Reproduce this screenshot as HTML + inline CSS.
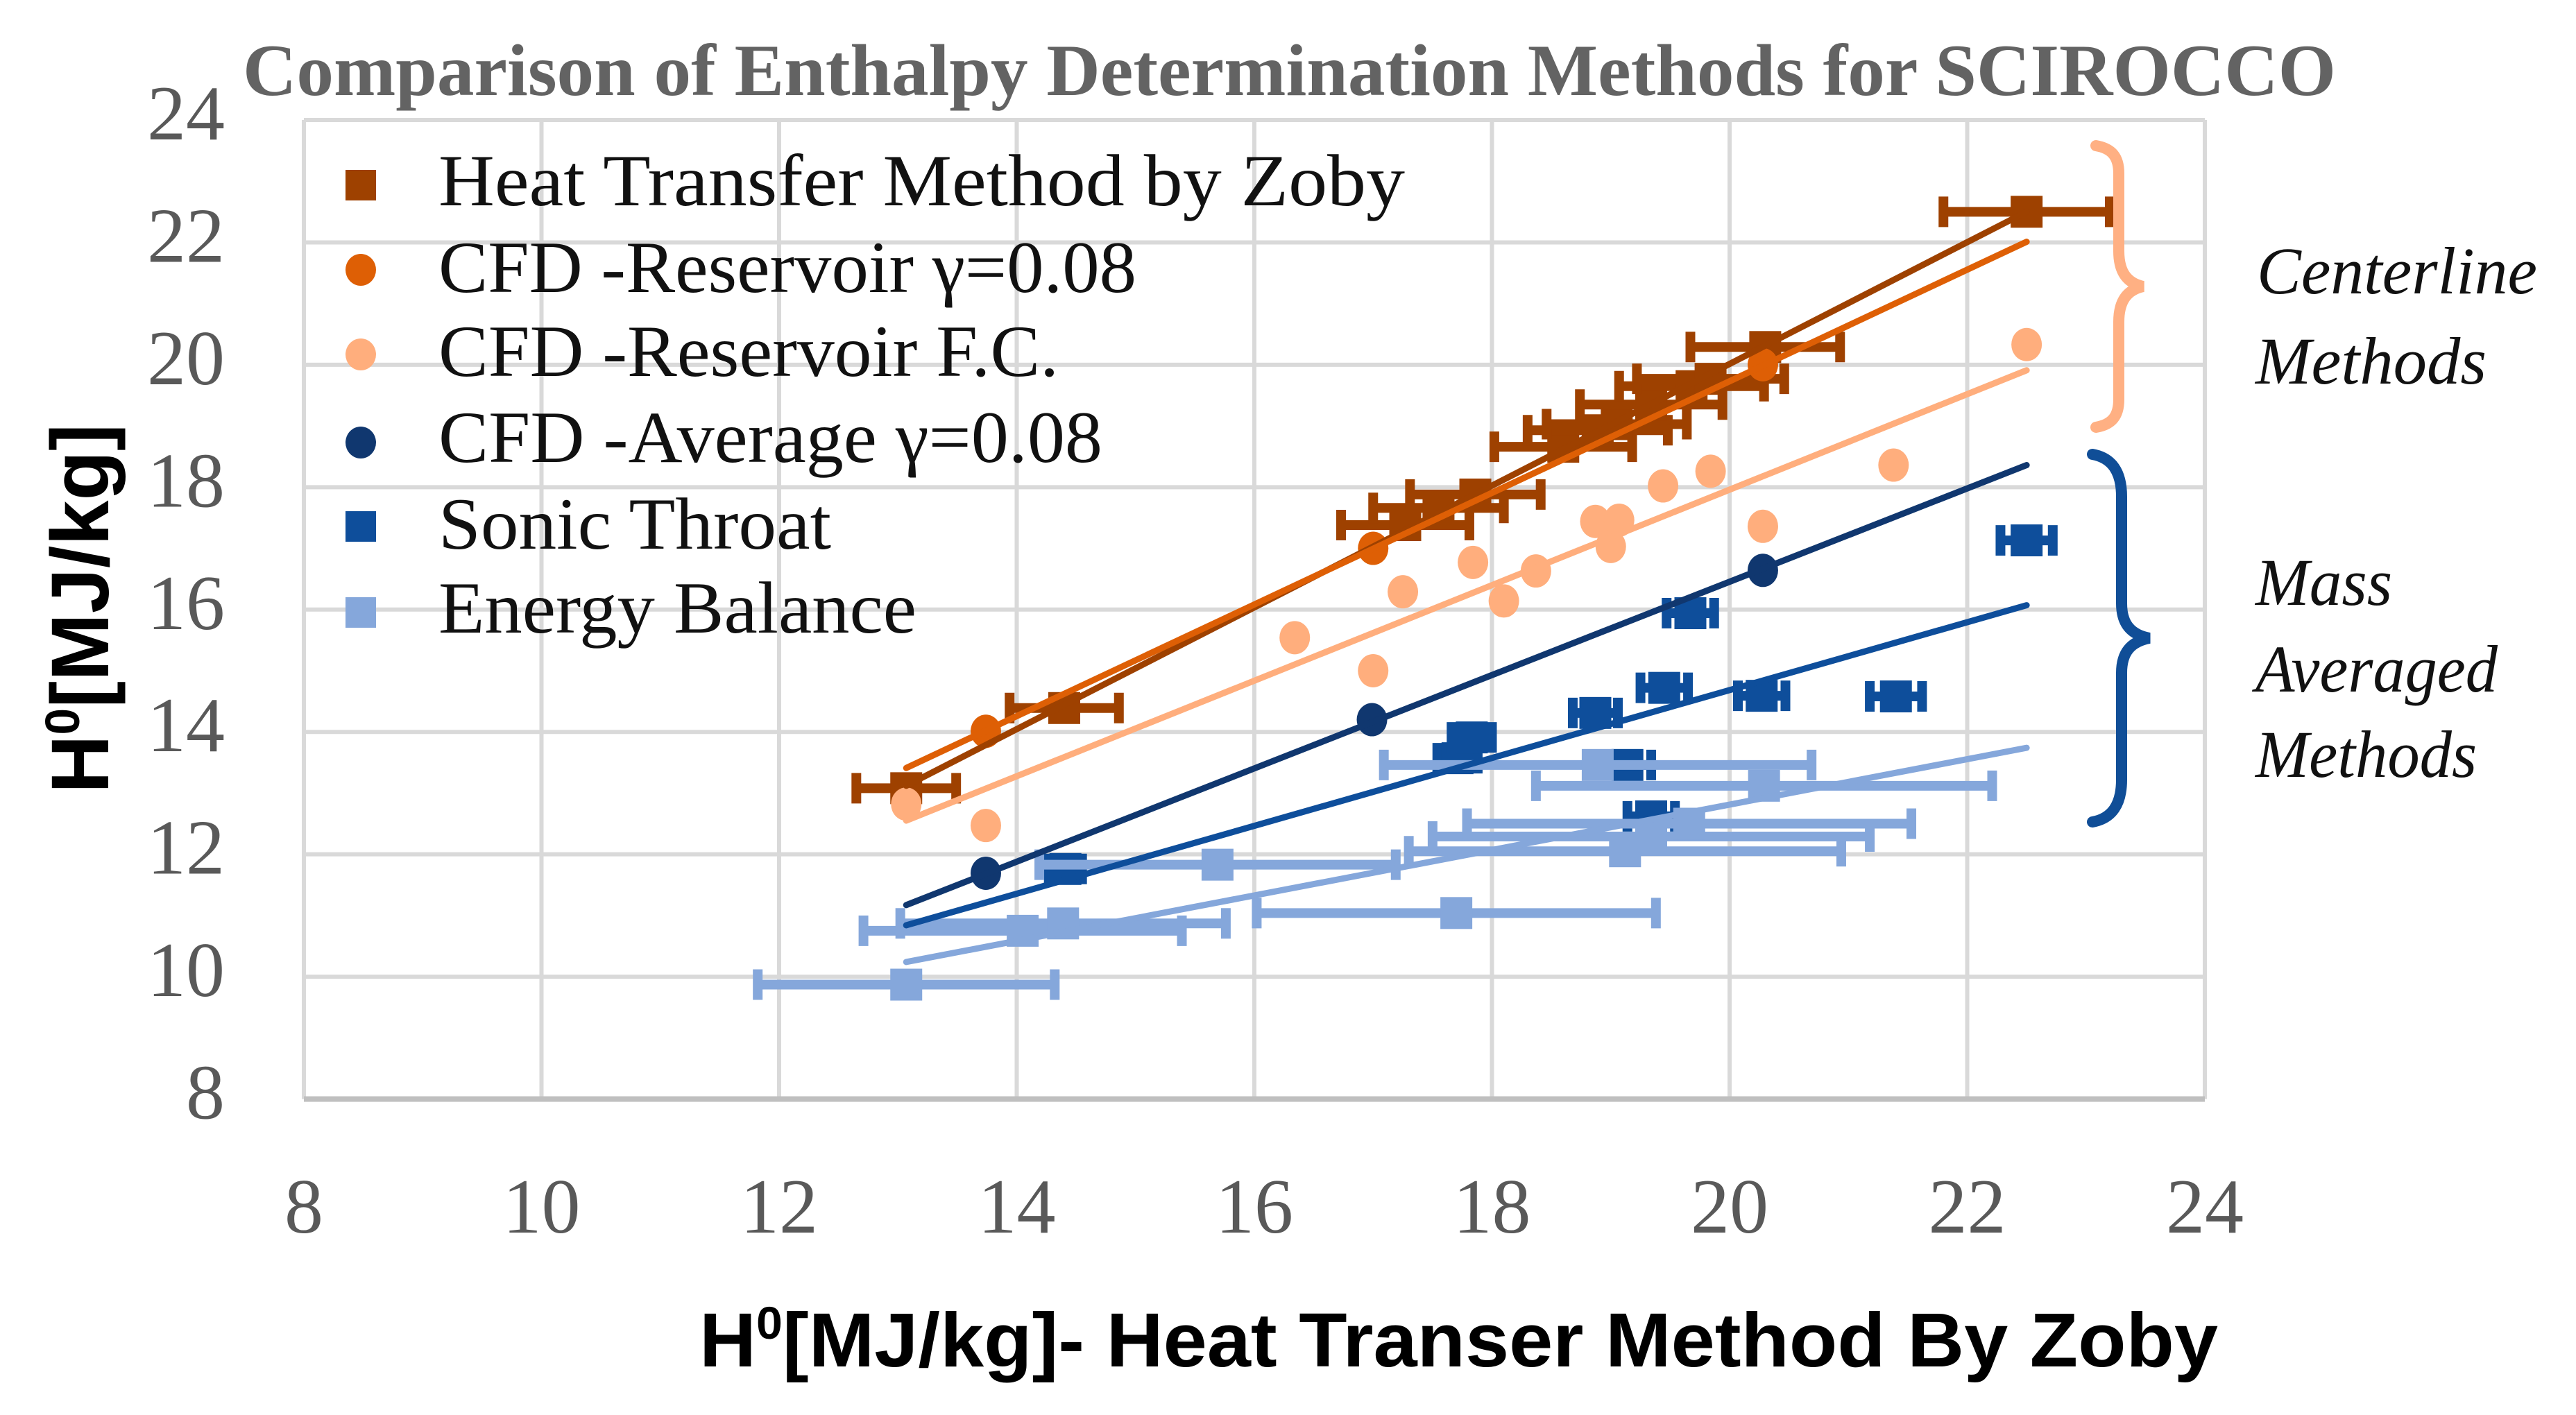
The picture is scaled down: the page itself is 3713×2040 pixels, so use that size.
<!DOCTYPE html>
<html lang="en">
<head>
<meta charset="utf-8">
<title>Comparison of Enthalpy Determination Methods for SCIROCCO</title>
<style>
html,body{margin:0;padding:0;background:#fff;}
svg{display:block;}
.tick{font-family:"Liberation Serif",serif;font-size:112px;fill:#595959;}
.leg{font-family:"Liberation Serif",serif;font-size:106px;fill:#111;}
.note{font-family:"Liberation Serif",serif;font-style:italic;font-size:96px;fill:#111;}
.axt{font-family:"Liberation Sans",sans-serif;font-weight:bold;font-size:110px;fill:#000;}
</style>
</head>
<body>
<svg id="chart" xmlns="http://www.w3.org/2000/svg" width="3713" height="2040" viewBox="0 0 3713 2040">
  <rect x="0" y="0" width="3713" height="2040" fill="#ffffff"/>
  <g id="grid"></g>
  <g id="ticks"></g>
  <g id="marks"></g>
  <g id="trends"></g>

  <text x="350" y="137" textLength="3017" lengthAdjust="spacingAndGlyphs" font-family="'Liberation Serif',serif" font-weight="bold" font-size="106" fill="#636363">Comparison of Enthalpy Determination Methods for SCIROCCO</text>

  <text class="axt" x="1008" y="1970" textLength="2189" lengthAdjust="spacingAndGlyphs">H<tspan font-size="66" dy="-40">0</tspan><tspan dy="40">[MJ/kg]- Heat Transer Method By Zoby</tspan></text>
  <text class="axt" font-size="118" style="font-size:118px" transform="translate(156,1144) rotate(-90)" x="0" y="0" textLength="533" lengthAdjust="spacingAndGlyphs">H<tspan font-size="70" style="font-size:70px" dy="-42">0</tspan><tspan dy="42">[MJ/kg]</tspan></text>

  <g id="legend">
    <text class="leg" x="632" y="296" textLength="1393" lengthAdjust="spacingAndGlyphs">Heat Transfer Method by Zoby</text>
    <text class="leg" x="632" y="421" textLength="1006" lengthAdjust="spacingAndGlyphs">CFD -Reservoir γ=0.08</text>
    <text class="leg" x="632" y="542" textLength="894" lengthAdjust="spacingAndGlyphs">CFD -Reservoir F.C.</text>
    <text class="leg" x="632" y="666" textLength="957" lengthAdjust="spacingAndGlyphs">CFD -Average γ=0.08</text>
    <text class="leg" x="632" y="791" textLength="566" lengthAdjust="spacingAndGlyphs">Sonic Throat</text>
    <text class="leg" x="632" y="912" textLength="689" lengthAdjust="spacingAndGlyphs">Energy Balance</text>
    <rect x="498" y="245" width="44" height="44" fill="#9E4100"/>
    <ellipse cx="520" cy="389" rx="22" ry="23" fill="#DE5F05"/>
    <ellipse cx="520" cy="511" rx="22" ry="23" fill="#FFAE7D"/>
    <ellipse cx="520" cy="638" rx="22" ry="23" fill="#10376F"/>
    <rect x="498" y="737" width="44" height="44" fill="#0E4E9B"/>
    <rect x="498" y="861" width="44" height="44" fill="#85A7DB"/>
  </g>

  <path d="M3021 210 C3044 214 3054 226 3054 250 L3054 362 C3054 392 3066 408 3089 413 C3066 418 3054 434 3054 464 L3054 576 C3054 600 3044 612 3021 616" fill="none" stroke="#FFB083" stroke-width="16" stroke-linecap="round"/>
  <path d="M3016 655 C3044 660 3058 680 3058 716 L3058 870 C3058 900 3072 915 3098 920 C3072 925 3058 940 3058 970 L3058 1124 C3058 1160 3044 1180 3016 1185" fill="none" stroke="#104E97" stroke-width="16" stroke-linecap="round"/>

  <text class="note" x="3253" y="423" textLength="404" lengthAdjust="spacingAndGlyphs">Centerline</text>
  <text class="note" x="3251" y="553" textLength="333" lengthAdjust="spacingAndGlyphs">Methods</text>
  <text class="note" x="3251" y="872" textLength="197" lengthAdjust="spacingAndGlyphs">Mass</text>
  <text class="note" x="3251" y="997" textLength="349" lengthAdjust="spacingAndGlyphs">Averaged</text>
  <text class="note" x="3251" y="1120" textLength="319" lengthAdjust="spacingAndGlyphs">Methods</text>
</svg>

<script>
// Axis tick labels
const xTickValues = [8, 10, 12, 14, 16, 18, 20, 22, 24];
const yTickValues = [8, 10, 12, 14, 16, 18, 20, 22, 24];

// Heat Transfer Method by Zoby
const heatX = [13.07, 14.4, 17.27, 17.55, 17.86, 18.6, 18.89, 19.05, 19.34, 19.68, 19.84, 20.3, 22.5];
const heatY = [13.08, 14.39, 17.38, 17.66, 17.88, 18.66, 18.93, 19.03, 19.35, 19.65, 19.77, 20.29, 22.5];
const heatErr = [0.42, 0.46, 0.54, 0.55, 0.55, 0.58, 0.59, 0.59, 0.6, 0.61, 0.62, 0.63, 0.7];

// CFD Reservoir gamma=0.08
const reservoirGammaX = [13.74, 17.0, 20.28];
const reservoirGammaY = [14.01, 17.0, 20.0];

// CFD Reservoir F.C.
const reservoirFcX = [13.07, 13.74, 16.34, 17.0, 17.25, 17.84, 18.1, 18.37, 18.87, 19.0, 19.07, 19.44, 19.84, 20.28, 21.38, 22.5];
const reservoirFcY = [12.82, 12.47, 15.54, 15.0, 16.29, 16.77, 16.14, 16.63, 17.44, 17.03, 17.46, 18.02, 18.26, 17.36, 18.36, 20.33];

// CFD Average gamma=0.08
const averageGammaX = [13.74, 16.99, 20.28];
const averageGammaY = [11.69, 14.2, 16.64];

// Sonic Throat
const sonicX = [14.41, 17.71, 17.83, 18.87, 19.14, 19.34, 19.45, 19.67, 20.27, 21.4, 22.5];
const sonicY = [11.76, 13.57, 13.91, 14.31, 13.46, 12.62, 14.72, 15.94, 14.59, 14.58, 17.13];
const sonicErr = [0.14, 0.17, 0.17, 0.19, 0.2, 0.2, 0.2, 0.2, 0.2, 0.22, 0.22];

// Energy Balance
const energyX = [13.07, 14.05, 14.39, 15.69, 17.7, 18.89, 19.12, 19.34, 19.66, 20.29];
const energyY = [9.87, 10.75, 10.87, 11.83, 11.04, 13.46, 12.05, 12.29, 12.5, 13.12];
const energyErr = [1.25, 1.34, 1.37, 1.5, 1.68, 1.8, 1.82, 1.84, 1.87, 1.92];

// Trendlines: [value at start, value at end] over trendX
const trendX = [13.07, 22.5];
const heatTrendY = [13.12, 22.5];
const reservoirGammaTrendY = [13.41, 22.01];
const reservoirFcTrendY = [12.55, 19.91];
const averageGammaTrendY = [11.17, 18.36];
const sonicTrendY = [10.84, 16.07];
const energyTrendY = [10.24, 13.74];

const xMin = 8, xMax = 24, yMin = 8, yMax = 24;
const plotLeft = 438, plotRight = 3178, plotTop = 173, plotBottom = 1584.5;
const sx = v => plotLeft + (v - xMin) * (plotRight - plotLeft) / (xMax - xMin);
const sy = v => plotBottom - (v - yMin) * (plotBottom - plotTop) / (yMax - yMin);

const NS = 'http://www.w3.org/2000/svg';
function mk(parent, tag, props) {
  const el = document.createElementNS(NS, tag);
  for (const k in props) el.setAttribute(k, props[k]);
  parent.appendChild(el);
  return el;
}

const grid = document.getElementById('grid');
const ticks = document.getElementById('ticks');
const marks = document.getElementById('marks');
const trends = document.getElementById('trends');

xTickValues.forEach(v => {
  const line = mk(grid, 'line', {x1: sx(v), x2: sx(v), y1: plotTop, y2: plotBottom, stroke: '#d9d9d9', 'stroke-width': 6});
  
  
  const label = mk(ticks, 'text', {x: sx(v), y: 1777, 'text-anchor': 'middle', class: 'tick'});
  label.textContent = v;
  
  
});
yTickValues.forEach(v => {
  const line = mk(grid, 'line', {x1: plotLeft, x2: plotRight, y1: sy(v), y2: sy(v), stroke: v === yMin ? '#bfbfbf' : '#d9d9d9', 'stroke-width': v === yMin ? 8 : 6});
  
  
  const label = mk(ticks, 'text', {x: 324, y: sy(v) + 28, 'text-anchor': 'end', class: 'tick'});
  label.textContent = v;
  
  
});

function drawSeries(seriesName, xs, ys, errs, color, shape) {
  const g = mk(marks, 'g', {});
  
  
  xs.forEach((x, i) => {
    const px = sx(x), py = sy(ys[i]);
    if (errs) {
      const lo = sx(x - errs[i]), hi = sx(x + errs[i]);
      const bar = mk(g, 'path', {d: `M${lo} ${py}H${hi}M${lo} ${py - 22}V${py + 22}M${hi} ${py - 22}V${py + 22}`, stroke: color, 'stroke-width': 14, fill: 'none'});
      
      
    }
    if (shape === 'square') {
      const m = mk(g, 'rect', {x: px - 23, y: py - 23, width: 46, height: 46, fill: color});
      
      
    } else {
      const m = mk(g, 'ellipse', {cx: px, cy: py, rx: 22, ry: 24, fill: color});
      
      
    }
  });
}

function drawTrend(seriesName, ysEnds, color) {
  const line = mk(trends, 'line', {x1: sx(trendX[0]), y1: sy(ysEnds[0]), x2: sx(trendX[1]), y2: sy(ysEnds[1]), stroke: color, 'stroke-width': 9, 'stroke-linecap': 'round'});
  
  
}

drawSeries('heat-transfer', heatX, heatY, heatErr, '#9E4100', 'square');
drawSeries('reservoir-gamma', reservoirGammaX, reservoirGammaY, null, '#DE5F05', 'circle');
drawSeries('reservoir-fc', reservoirFcX, reservoirFcY, null, '#FFAE7D', 'circle');
drawSeries('average-gamma', averageGammaX, averageGammaY, null, '#10376F', 'circle');
drawSeries('sonic-throat', sonicX, sonicY, sonicErr, '#0E4E9B', 'square');
drawSeries('energy-balance', energyX, energyY, energyErr, '#85A7DB', 'square');

drawTrend('heat-transfer', heatTrendY, '#9E4100');
drawTrend('reservoir-gamma', reservoirGammaTrendY, '#DE5F05');
drawTrend('reservoir-fc', reservoirFcTrendY, '#FFAE7D');
drawTrend('average-gamma', averageGammaTrendY, '#10376F');
drawTrend('energy-balance', energyTrendY, '#85A7DB');
drawTrend('sonic-throat', sonicTrendY, '#0E4E9B');
</script>
</body>
</html>
